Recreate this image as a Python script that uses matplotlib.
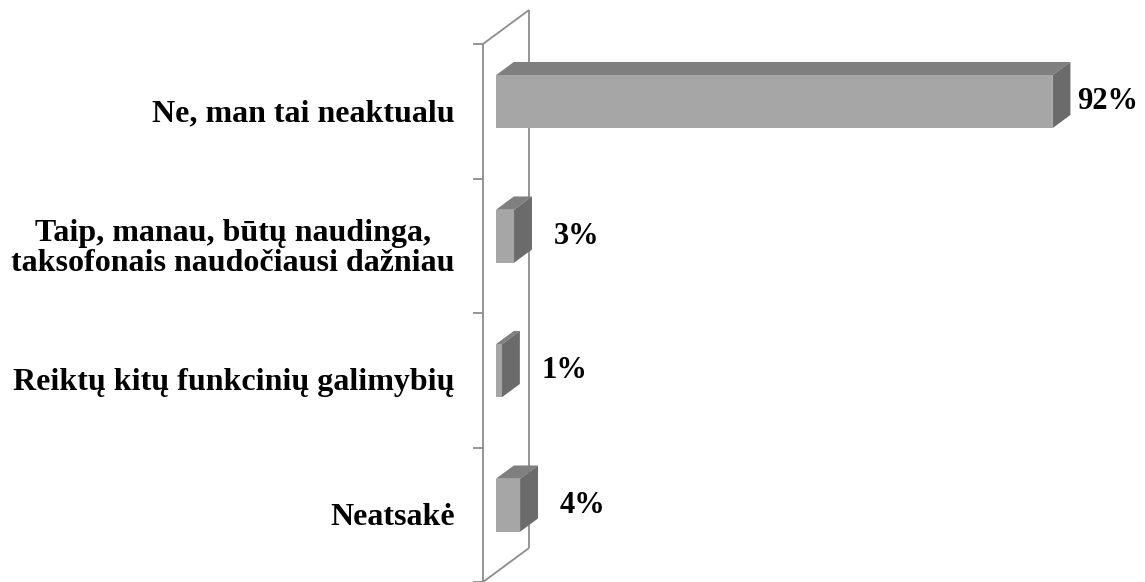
import numpy as np
import matplotlib.pyplot as plt
from matplotlib.patches import Polygon

categories = ['Ne, man tai neaktualu',
              'Taip, manau, būtų naudinga,\ntaksofonais naudočiausi dažniau',
              'Reiktų kitų funkcinių galimybių',
              'Neatsakė']
values = [92, 3, 1, 4]
value_labels = ['92%', '3%', '1%', '4%']

# pixel layout of the 3D box (Excel style)
W, H = 1145, 582
px_per_unit = 6.05         # px per percent
x0_px = 483                # front axis line
band_px = 134.5            # category spacing
top_px = 44                # top of front axis
depth_px = (46, -34)       # wall depth vector
f0, f1 = 0.28, 0.67        # bar front/back depth fraction
bar_h = 0.394              # bar height in category units

fig = plt.figure(figsize=(W / 100, H / 100), dpi=100)
ax = fig.add_axes([0, 0, 1, 1])
x_min, x_max = -x0_px / px_per_unit, (W - x0_px) / px_per_unit
ax.set_xlim(x_min, x_max)
y_first = (top_px + band_px / 2)
ax.set_ylim((H - y_first) / band_px, -y_first / band_px)
ax.axis('off')

D = np.array([depth_px[0] / px_per_unit, depth_px[1] / band_px])
n = len(categories)
line_kw = dict(color='#8c8c8c', lw=1.3, solid_capstyle='butt', zorder=1)

# walls / axis
y_lo, y_hi = -0.5, n - 0.5
ax.plot([0, 0], [y_lo, y_hi], **line_kw)
ax.plot([D[0], D[0]], [y_lo + D[1], y_hi + D[1]], **line_kw)
ax.plot([0, D[0]], [y_lo, y_lo + D[1]], **line_kw)
ax.plot([0, D[0]], [y_hi, y_hi + D[1]], **line_kw)
tick_len = 10 / px_per_unit
for b in np.arange(y_lo, y_hi + 0.01, 1.0):
    ax.plot([-tick_len, 0], [b, b], **line_kw)

P0 = f0 * D
P1 = f1 * D
lab_kw = dict(va='center', fontsize=22, fontweight='bold',
              family='Liberation Serif', zorder=5)
for i, (v, lab) in enumerate(zip(values, value_labels)):
    yt = i - bar_h / 2
    yb = i + bar_h / 2
    front = [(P0[0], yt + P0[1]), (v + P0[0], yt + P0[1]),
             (v + P0[0], yb + P0[1]), (P0[0], yb + P0[1])]
    top = [(P0[0], yt + P0[1]), (v + P0[0], yt + P0[1]),
           (v + P1[0], yt + P1[1]), (P1[0], yt + P1[1])]
    side = [(v + P0[0], yt + P0[1]), (v + P1[0], yt + P1[1]),
            (v + P1[0], yb + P1[1]), (v + P0[0], yb + P0[1])]
    ax.add_patch(Polygon(top, closed=True, fc='#7f7f7f', ec='none', zorder=3))
    ax.add_patch(Polygon(side, closed=True, fc='#6b6b6b', ec='none', zorder=3))
    ax.add_patch(Polygon(front, closed=True, fc='#a6a6a6', ec='none', zorder=4))
    lx = v + P1[0] + 3.6
    if lx + 10 > x_max - 1:
        # keep the label inside the chart area
        ax.text(x_max - 7 / px_per_unit, i + P0[1], lab, ha='right', **lab_kw)
    else:
        ax.text(lx, i + P0[1], lab, ha='left', **lab_kw)

for i, c in enumerate(categories):
    ax.text(-28 / px_per_unit, i + 0.02, c, ha='right', va='center',
            multialignment='center', fontsize=23, fontweight='bold',
            family='Liberation Serif', linespacing=1.05)

fig.savefig('out.png', dpi=100, facecolor='white')
